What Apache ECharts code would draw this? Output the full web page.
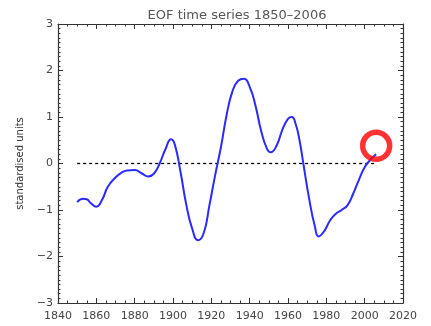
<!DOCTYPE html>
<html>
<head>
<meta charset="utf-8">
<script src="https://cdn.jsdelivr.net/npm/echarts@6/dist/echarts.min.js"></script>
<style>
  html, body { margin: 0; padding: 0; background: #fff; }
  #chart { width: 431px; height: 326px; }
</style>
</head>
<body>
<div id="chart"></div>
<script>
// EOF time series
const years = [1850, 1853, 1855, 1857, 1860, 1863, 1866, 1870, 1873, 1876, 1880, 1884, 1887, 1890, 1893, 1896, 1899, 1901, 1904, 1907, 1910, 1913, 1916, 1919, 1922, 1925, 1928, 1931, 1934, 1937, 1940, 1943, 1946, 1949, 1951, 1954, 1957, 1960, 1962, 1964, 1966, 1968, 1971, 1974, 1976, 1979, 1982, 1985, 1988, 1991, 1994, 1997, 2000, 2003, 2006];
const values = [-0.83, -0.76, -0.77, -0.85, -0.93, -0.78, -0.5, -0.3, -0.2, -0.15, -0.14, -0.22, -0.28, -0.22, 0.0, 0.3, 0.52, 0.4, -0.2, -0.9, -1.4, -1.65, -1.5, -0.9, -0.25, 0.35, 1.05, 1.55, 1.78, 1.82, 1.65, 1.25, 0.7, 0.32, 0.24, 0.38, 0.72, 0.96, 1.0, 0.85, 0.5, 0.0, -0.75, -1.35, -1.57, -1.45, -1.22, -1.08, -1.0, -0.9, -0.65, -0.35, -0.08, 0.08, 0.2];
const zeroLine = [[1850, 0], [2006, 0]];
const marker = [[2006, 0.38]];
const titleText = 'EOF time series 1850\u20132006';
const yName = 'standardised units';

const chart = echarts.init(document.getElementById('chart'));

const axisColor = '#333';
const frameLine = { show: true, onZero: false, lineStyle: { color: axisColor, width: 1.2 } };
const frameTicks = { show: true, inside: true, length: 5, lineStyle: { color: axisColor } };
const minorTicks = { show: true, length: 2.5, lineStyle: { color: axisColor } };
const labelStyle = { color: '#444', fontSize: 11, fontFamily: 'DejaVu Sans' };

const option = {
  animation: false,
  title: {
    text: titleText,
    left: 232,
    textAlign: 'center',
    top: 4,
    textStyle: { fontFamily: 'DejaVu Sans', fontSize: 13, fontWeight: 'normal', color: '#555' }
  },
  grid: { left: 58, right: 28, top: 24, bottom: 23 },
  xAxis: [
    {
      type: 'value', min: 1840, max: 2020, interval: 20,
      axisLine: frameLine,
      axisTick: frameTicks,
      minorTick: Object.assign({ splitNumber: 4 }, minorTicks),
      axisLabel: Object.assign({ formatter: v => String(v), margin: 8 }, labelStyle),
      splitLine: { show: false }
    },
    {
      type: 'value', position: 'top', min: 1840, max: 2020, interval: 20,
      axisLine: frameLine,
      axisTick: frameTicks,
      minorTick: Object.assign({ splitNumber: 4 }, minorTicks),
      axisLabel: { show: false },
      splitLine: { show: false }
    }
  ],
  yAxis: [
    {
      type: 'value', min: -3, max: 3, interval: 1,
      name: yName, nameLocation: 'middle', nameGap: 30,
      nameTextStyle: { fontSize: 10, fontFamily: 'DejaVu Sans', color: '#333' },
      axisLine: frameLine,
      axisTick: frameTicks,
      minorTick: Object.assign({ splitNumber: 10 }, minorTicks),
      axisLabel: Object.assign({ formatter: v => String(v).replace('-', '\u2212'), margin: 5 }, labelStyle),
      splitLine: { show: false }
    },
    {
      type: 'value', position: 'right', min: -3, max: 3, interval: 1,
      axisLine: frameLine,
      axisTick: frameTicks,
      minorTick: Object.assign({ splitNumber: 10 }, minorTicks),
      axisLabel: { show: false },
      splitLine: { show: false }
    }
  ],
  series: [
    {
      type: 'line',
      data: zeroLine,
      symbol: 'none',
      lineStyle: { color: '#000', width: 1.3, type: [3, 3] }
    },
    {
      type: 'line',
      data: years.map((y, i) => [y, values[i]]),
      smooth: 0.5,
      symbol: 'none',
      lineStyle: { color: '#2a2aff', width: 2 }
    },
    {
      type: 'scatter',
      data: marker,
      symbol: 'circle',
      symbolSize: 27,
      itemStyle: { color: 'rgba(0,0,0,0)', borderColor: '#ff0000', borderWidth: 5.5 },
      z: 5
    }
  ]
};

chart.setOption(option);
</script>
</body>
</html>
